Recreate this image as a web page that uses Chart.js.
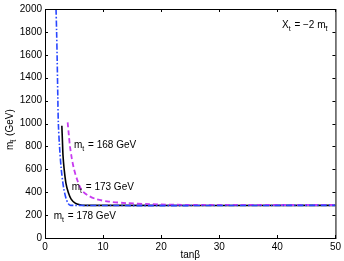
<!DOCTYPE html>
<html>
<head>
<meta charset="utf-8">
<script src="https://cdn.jsdelivr.net/npm/chart.js@4/dist/chart.umd.min.js"></script>
<style>
  html, body { margin: 0; padding: 0; background: #fff; }
  #wrap { width: 344px; height: 261px; }
</style>
</head>
<body>
<div id="wrap"><canvas id="grafikStop"></canvas></div>
<script>
// m_t = 178 GeV (blue dash-dot)
const tanB178 = [1.9, 2.0, 2.1, 2.2, 2.3, 2.5, 2.8, 3.2, 3.6, 4.0, 4.4, 50];
const mst178 = [2000, 1800, 1550, 1250, 1000, 800, 600, 440, 350, 300, 285, 285];
// m_t = 173 GeV (black solid)
const tanB173 = [2.9, 3.0, 3.1, 3.3, 3.6, 4.0, 4.5, 5.2, 6.0, 6.7, 50];
const mst173 = [980, 850, 720, 600, 480, 400, 340, 305, 290, 285, 285];
// m_t = 168 GeV (magenta dashed)
const tanB168 = [3.9, 4.1, 4.3, 4.6, 5.0, 5.6, 6.3, 7.3, 8.8, 11, 14, 18, 24, 50];
const mst168 = [1010, 900, 800, 700, 600, 500, 420, 375, 340, 318, 305, 296, 290, 288];

const xTicks = [0, 10, 20, 30, 40, 50];
const yTicks = [0, 200, 400, 600, 800, 1000, 1200, 1400, 1600, 1800, 2000];

const toPts = (xs, ys) => xs.map((x, i) => ({ x: x, y: ys[i] }));
const FONT = '"Liberation Sans", Arial, sans-serif';

// text with a subscript part: [[text, sub], ...]
function drawRich(ctx, parts, x, y) {
    let cx = x;
    parts.forEach(p => {
        ctx.font = '10px ' + FONT;
        ctx.fillText(p[0], cx, y);
        cx += ctx.measureText(p[0]).width;
        if (p[1]) {
            ctx.font = '7px ' + FONT;
            ctx.fillText(p[1], cx, y + 3);
            cx += ctx.measureText(p[1]).width + 1;
        }
    });
}

const labelsPlugin = {
    id: 'matlabLook',
    afterDraw(chart) {
        const { ctx, chartArea: a, scales } = chart;
        const xs = scales.x, ys = scales.y;
        ctx.save();
        // box + inward ticks
        ctx.strokeStyle = '#000';
        ctx.lineWidth = 1;
        ctx.strokeRect(a.left + 0.5, a.top + 0.5, a.right - a.left, a.bottom - a.top);
        ctx.beginPath();
        xTicks.forEach(v => {
            const px = Math.round(xs.getPixelForValue(v)) + 0.5;
            ctx.moveTo(px, a.bottom); ctx.lineTo(px, a.bottom - 3);
            ctx.moveTo(px, a.top); ctx.lineTo(px, a.top + 3);
        });
        yTicks.forEach(v => {
            const py = Math.round(ys.getPixelForValue(v)) + 0.5;
            ctx.moveTo(a.left, py); ctx.lineTo(a.left + 3, py);
            ctx.moveTo(a.right, py); ctx.lineTo(a.right - 3, py);
        });
        ctx.stroke();

        ctx.fillStyle = '#000';
        ctx.textBaseline = 'alphabetic';
        ctx.textAlign = 'left';
        drawRich(ctx, [['m', 't'], [' = 168 GeV']], xs.getPixelForValue(5.0), ys.getPixelForValue(790));
        drawRich(ctx, [['m', 't'], [' = 173 GeV']], xs.getPixelForValue(4.6), ys.getPixelForValue(420));
        drawRich(ctx, [['m', 't'], [' = 178 GeV']], xs.getPixelForValue(1.5), ys.getPixelForValue(165));
        drawRich(ctx, [['X', 't'], [' = \u22122 m', 't\u0303']], xs.getPixelForValue(40.8), ys.getPixelForValue(1830));

        // y axis title, rotated
        ctx.translate(13, 150);
        ctx.rotate(-Math.PI / 2);
        drawRich(ctx, [['m', 't\u0303'], [' (GeV)']], 0, 0);

        ctx.restore();
        // x axis title
        ctx.save();
        ctx.font = '10px ' + FONT;
        ctx.textAlign = 'center';
        ctx.fillStyle = '#000';
        ctx.fillText('tan\u03b2', (a.left + a.right) / 2, 258);
        ctx.restore();
    }
};

document.addEventListener("DOMContentLoaded", () => {
    const ctx = document.getElementById('grafikStop');

    new Chart(ctx, {
        type: 'scatter',
        data: {
            datasets: [{
                label: 'm_t = 178 GeV',
                data: toPts(tanB178, mst178),
                showLine: true,
                borderColor: 'rgb(40,70,255)',
                borderWidth: 1.6,
                borderDash: [6, 2, 1.5, 2],
                pointRadius: 0,
                tension: 0.3
            }, {
                label: 'm_t = 168 GeV',
                data: toPts(tanB168, mst168),
                showLine: true,
                borderColor: 'rgb(200,60,240)',
                borderWidth: 1.8,
                borderDash: [5, 3],
                pointRadius: 0,
                tension: 0.3
            }, {
                label: 'm_t = 173 GeV',
                data: toPts(tanB173, mst173),
                showLine: true,
                borderColor: '#000',
                borderWidth: 1.6,
                pointRadius: 0,
                tension: 0.3
            }]
        },
        options: {
            responsive: true,
            maintainAspectRatio: false,
            animation: false,
            layout: { padding: { top: 8, right: 8, left: 0, bottom: 0 } },
            plugins: { legend: { display: false }, tooltip: { enabled: false } },
            scales: {
                x: {
                    type: 'linear',
                    min: 0, max: 50,
                    afterBuildTicks: s => { s.ticks = xTicks.map(v => ({ value: v })); },
                    afterFit: s => { s.height = 23; },
                    grid: { display: false, drawTicks: false },
                    border: { display: false },
                    ticks: { color: '#000', font: { family: FONT, size: 10 }, padding: 3, maxRotation: 0,
                             callback: v => String(v) }
                },
                y: {
                    type: 'linear',
                    min: 0, max: 2000,
                    afterBuildTicks: s => { s.ticks = yTicks.map(v => ({ value: v })); },
                    afterFit: s => { s.width = 45; },
                    grid: { display: false, drawTicks: false },
                    border: { display: false },
                    ticks: { color: '#000', font: { family: FONT, size: 10 }, padding: 3,
                             callback: v => String(v) }
                }
            }
        },
        plugins: [labelsPlugin]
    });
});
</script>
</body>
</html>
